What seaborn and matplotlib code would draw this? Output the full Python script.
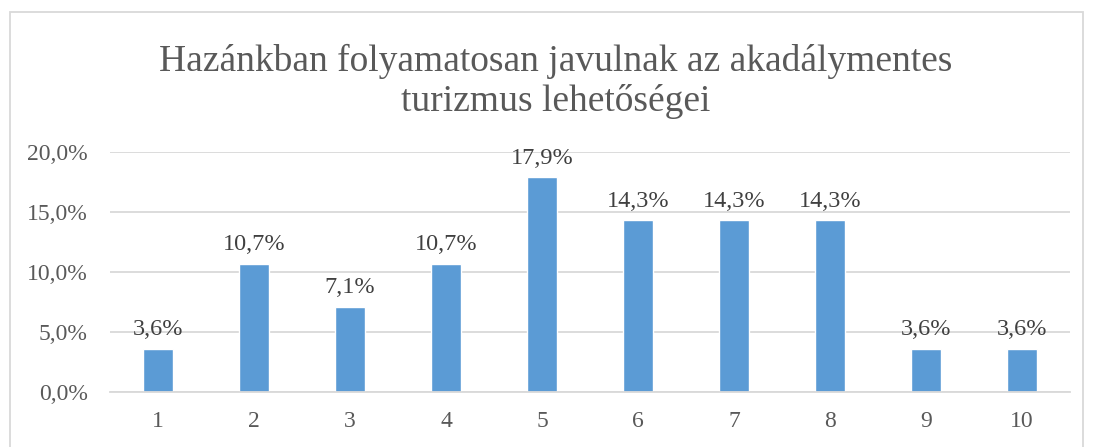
import matplotlib
matplotlib.use("Agg")
import matplotlib.pyplot as plt
import matplotlib.patches as mpatches
import seaborn as sns
import pandas as pd

categories = ["1", "2", "3", "4", "5", "6", "7", "8", "9", "10"]
values = [3.6, 10.7, 7.1, 10.7, 17.9, 14.3, 14.3, 14.3, 3.6, 3.6]
title_lines = ["Hazánkban folyamatosan javulnak az akadálymentes", "turizmus lehetőségei"]
yticks = [0, 5, 10, 15, 20]

sns.set_theme(style="white")
plt.rcParams['font.family'] = ['Liberation Serif', 'DejaVu Serif']

df = pd.DataFrame({"cat": categories, "val": values})

fig = plt.figure(figsize=(10.93, 4.47), dpi=100)
ax = fig.add_axes([0.1006, 0.123, 0.8784, 0.537])

sns.barplot(data=df, x="cat", y="val", color="#5b9bd5", saturation=1, width=0.31, ax=ax)

ax.set_ylim(0, 20)
ax.set_xlim(-0.5, len(categories) - 0.5)
ax.set_yticks(yticks)
ax.set_yticklabels([f"{t:.1f}".replace(".", ",") + "%" for t in yticks])
ax.yaxis.grid(True, color="#d9d9d9", linewidth=1.3)
ax.set_axisbelow(True)
for s in ["top", "right", "left"]:
    ax.spines[s].set_visible(False)
ax.spines["bottom"].set_color("#d9d9d9")
ax.spines["bottom"].set_linewidth(1.3)
ax.set_xlabel("")
ax.set_ylabel("")
ax.tick_params(axis="both", length=0, labelsize=17, colors="#595959")
ax.tick_params(axis="y", pad=16)
ax.tick_params(axis="x", pad=14)

for i, v in enumerate(values):
    ax.annotate(f"{v:.1f}".replace(".", ",") + "%", (i, v), xytext=(0, 6),
                textcoords="offset points", ha="center", va="bottom",
                fontsize=17.5, color="#404040")

fig.text(0.508, 0.862, title_lines[0], ha="center", va="center", fontsize=27, color="#595959")
fig.text(0.508, 0.772, title_lines[1], ha="center", va="center", fontsize=27, color="#595959")

fig.patches.append(mpatches.Rectangle((10 / 1093, -0.01), 1073 / 1093, 1 - 12 / 447 + 0.01,
                                      transform=fig.transFigure, fill=False,
                                      edgecolor="#d9d9d9", linewidth=1.3))

fig.savefig("out.png", dpi=100)
